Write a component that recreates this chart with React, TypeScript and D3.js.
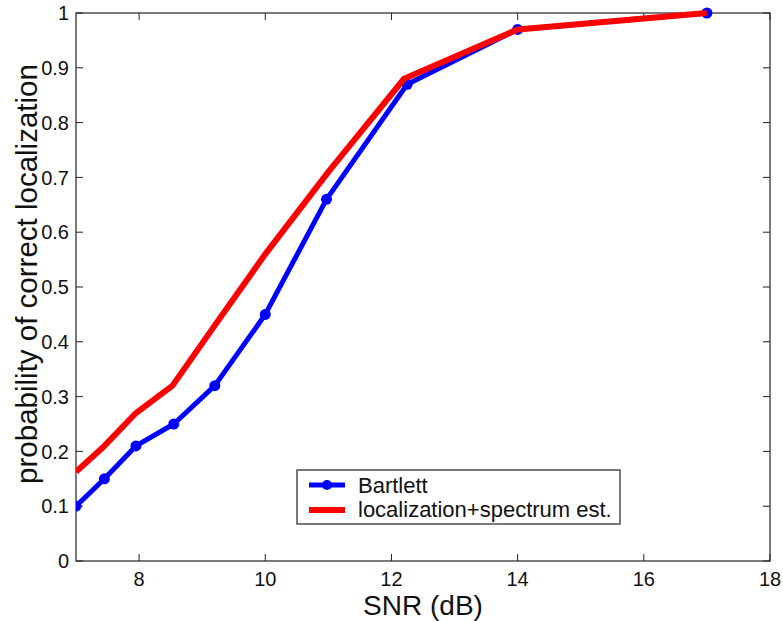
import React from "react";
import * as d3 from "d3";

const snr = [7, 7.45, 7.95, 8.55, 9.2, 10, 10.97, 12.25, 14, 17];
const bartlett = [0.1, 0.15, 0.21, 0.25, 0.32, 0.45, 0.66, 0.87, 0.97, 1.0];
const snrRed = [7, 7.45, 7.95, 8.53, 9.2, 10, 11, 12.2, 14, 17];
const locSpec = [0.163, 0.21, 0.27, 0.32, 0.43, 0.56, 0.71, 0.88, 0.97, 1.0];
const xTicks = [8, 10, 12, 14, 16, 18];
const yTicks = [0, 0.1, 0.2, 0.3, 0.4, 0.5, 0.6, 0.7, 0.8, 0.9, 1];
const legendLabels = ["Bartlett", "localization+spectrum est."];

const W = 783;
const H = 621;
const L = 76, R = 770, T = 13, B = 561;
const FONT = "'Liberation Sans', Arial, Helvetica, sans-serif";

export default function App() {
  const x = d3.scaleLinear().domain([7, 18]).range([L, R]);
  const y = d3.scaleLinear().domain([0, 1]).range([B, T]);
  const line = d3.line<[number, number]>().x((d) => x(d[0])).y((d) => y(d[1]));
  const blueData: [number, number][] = snr.map((s, i) => [s, bartlett[i]]);
  const redData: [number, number][] = snrRed.map((s, i) => [s, locSpec[i]]);
  const tl = 7;
  return (
    <svg width={W} height={H} style={{ position: "absolute", left: 0, top: 0 }}>
      <rect x={0} y={0} width={W} height={H} fill="#fff" />
      <defs>
        <clipPath id="pc">
          <rect x={L} y={T - 6} width={R - L + 6} height={B - T + 6} />
        </clipPath>
      </defs>
      {xTicks.map((t) => (
        <g key={"xt" + t}>
          <line x1={x(t)} x2={x(t)} y1={B} y2={B - tl} stroke="#222" strokeWidth={1} />
          <line x1={x(t)} x2={x(t)} y1={T} y2={T + tl} stroke="#222" strokeWidth={1} />
          <text x={x(t)} y={586} textAnchor="middle" fontFamily={FONT} fontSize={20} fill="#111">
            {t}
          </text>
        </g>
      ))}
      {yTicks.map((t) => (
        <g key={"yt" + t}>
          <line x1={L} x2={L + tl} y1={y(t)} y2={y(t)} stroke="#222" strokeWidth={1} />
          <line x1={R} x2={R - tl} y1={y(t)} y2={y(t)} stroke="#222" strokeWidth={1} />
          <text x={69} y={y(t)} dy="0.36em" textAnchor="end" fontFamily={FONT} fontSize={20} fill="#111">
            {String(t)}
          </text>
        </g>
      ))}
      <rect x={L} y={T} width={R - L} height={B - T} fill="none" stroke="#222" strokeWidth={1.2} />
      <g clipPath="url(#pc)">
        <path d={line(blueData) || ""} fill="none" stroke="#0000ff" strokeWidth={5} strokeLinejoin="round" />
        {blueData.map((d, i) => (
          <circle key={i} cx={x(d[0])} cy={y(d[1])} r={5.5} fill="#0000ff" />
        ))}
        <path d={line(redData) || ""} fill="none" stroke="#ff0000" strokeWidth={6} strokeLinejoin="round" />
      </g>
      <rect x={297} y={470} width={323} height={54} fill="#fff" stroke="#222" strokeWidth={1.2} />
      <line x1={309} x2={345} y1={485} y2={485} stroke="#0000ff" strokeWidth={5} />
      <circle cx={327} cy={485} r={5} fill="#0000ff" />
      <line x1={309} x2={345} y1={510} y2={510} stroke="#ff0000" strokeWidth={6} />
      <text x={358} y={493} fontFamily={FONT} fontSize={22} fill="#111">{legendLabels[0]}</text>
      <text x={358} y={517} fontFamily={FONT} fontSize={22} fill="#111">{legendLabels[1]}</text>
      <text x={(L + R) / 2} y={615} textAnchor="middle" fontFamily={FONT} fontSize={28} fill="#111">
        SNR (dB)
      </text>
      <text
        transform={`translate(37,274) rotate(-90)`}
        textAnchor="middle"
        fontFamily={FONT}
        fontSize={29.5}
        fill="#111"
      >
        probability of correct localization
      </text>
    </svg>
  );
}
